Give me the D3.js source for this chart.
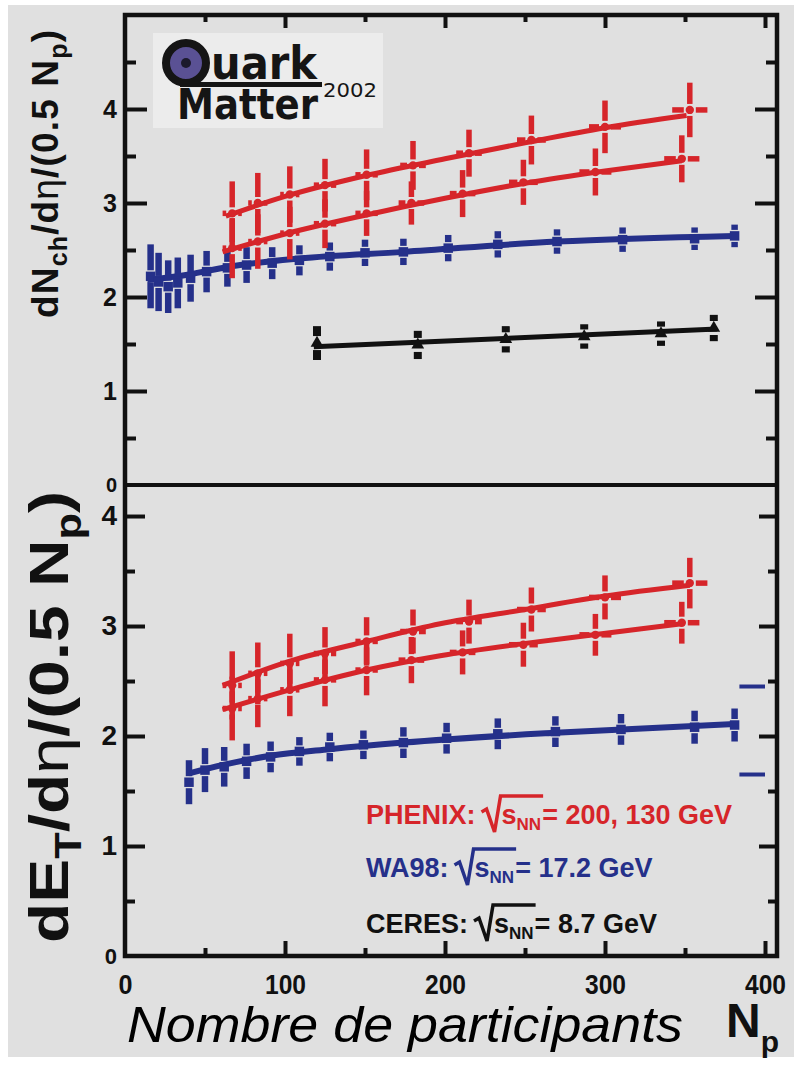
<!DOCTYPE html>
<html>
<head>
<meta charset="utf-8">
<script src="https://cdn.jsdelivr.net/npm/d3@7"></script>
<style>
  html, body { margin: 0; padding: 0; background: #ffffff; }
  svg { display: block; }
</style>
</head>
<body>
<svg id="chart" width="794" height="1068"></svg>
<script>
// ---------- data ----------
// PHENIX, sqrt(sNN) = 200 GeV
const phenix200Np      = [67, 83, 103, 125, 151, 180, 215, 254, 300, 353];
const phenix200NpErr   = [6, 6, 6, 7, 7, 8, 8, 9, 10, 11];
const phenix200Nch     = [2.89, 3.00, 3.09, 3.19, 3.30, 3.40, 3.53, 3.67, 3.81, 3.99];
const phenix200NchErr  = [0.34, 0.32, 0.30, 0.28, 0.27, 0.26, 0.25, 0.26, 0.28, 0.29];
const phenix200Et      = [2.46, 2.57, 2.66, 2.75, 2.86, 2.95, 3.04, 3.15, 3.26, 3.39];
const phenix200EtErr   = [0.31, 0.28, 0.27, 0.24, 0.22, 0.20, 0.20, 0.20, 0.20, 0.23];

// PHENIX, sqrt(sNN) = 130 GeV
const phenix130Np      = [67, 83, 103, 125, 151, 179, 211, 249, 294, 348];
const phenix130NpErr   = [6, 6, 6, 7, 7, 8, 8, 9, 10, 11];
const phenix130Nch     = [2.52, 2.59, 2.68, 2.78, 2.89, 3.00, 3.10, 3.22, 3.33, 3.47];
const phenix130NchErr  = [0.32, 0.29, 0.28, 0.26, 0.24, 0.23, 0.25, 0.24, 0.25, 0.25];
const phenix130Et      = [2.25, 2.34, 2.42, 2.51, 2.60, 2.69, 2.76, 2.83, 2.92, 3.03];
const phenix130EtErr   = [0.29, 0.26, 0.24, 0.24, 0.23, 0.21, 0.20, 0.20, 0.19, 0.19];

// WA98, sqrt(sNN) = 17.2 GeV
const wa98NchNp  = [16, 21, 27, 33, 41, 51, 64, 76, 92, 109, 128, 150, 174, 202, 233, 270, 311, 356, 381];
const wa98Nch    = [2.22, 2.16, 2.11, 2.15, 2.20, 2.27, 2.31, 2.34, 2.36, 2.39, 2.43, 2.47, 2.48, 2.52, 2.56, 2.59, 2.61, 2.62, 2.65];
const wa98NchErr = [0.34, 0.31, 0.28, 0.27, 0.25, 0.22, 0.20, 0.19, 0.17, 0.16, 0.15, 0.14, 0.14, 0.14, 0.14, 0.13, 0.13, 0.12, 0.12];
const wa98EtNp   = [40, 50, 62, 76, 91, 109, 128, 149, 174, 201, 233, 269, 310, 356, 381];
const wa98Et     = [1.58, 1.69, 1.72, 1.77, 1.81, 1.86, 1.90, 1.92, 1.94, 1.98, 2.02, 2.04, 2.06, 2.08, 2.10];
const wa98EtErr  = [0.20, 0.20, 0.18, 0.16, 0.14, 0.13, 0.13, 0.13, 0.14, 0.14, 0.14, 0.14, 0.14, 0.15, 0.15];
// WA98 E_T systematic band edges (drawn at the right edge)
const wa98EtSysNp = [384, 400];
const wa98EtSys   = [2.45, 1.65];

// CERES, sqrt(sNN) = 8.7 GeV
const ceresNp     = [120, 183, 238, 287, 335, 368];
const ceresNch    = [1.51, 1.49, 1.55, 1.58, 1.61, 1.67];
const ceresNchErr = [0.18, 0.15, 0.14, 0.13, 0.13, 0.14];

// fitted curves
const fitP200NchNp = [63, 100, 150, 200, 250, 300, 351];
const fitP200Nch   = [2.86, 3.07, 3.29, 3.47, 3.64, 3.80, 3.93];
const fitP130NchNp = [61, 100, 150, 200, 250, 300, 348];
const fitP130Nch   = [2.48, 2.67, 2.87, 3.05, 3.21, 3.34, 3.45];
const fitWa98NchNp = [14, 40, 64, 109, 174, 270, 381];
const fitWa98Nch   = [2.18, 2.24, 2.32, 2.41, 2.48, 2.59, 2.65];
const fitCeresNp   = [118, 370];
const fitCeresNch  = [1.47, 1.66];
const fitP200EtNp  = [61, 103, 151, 197, 250, 299, 353];
const fitP200Et    = [2.46, 2.68, 2.86, 3.02, 3.15, 3.27, 3.37];
const fitP130EtNp  = [61, 103, 151, 197, 249, 293, 348];
const fitP130Et    = [2.24, 2.42, 2.60, 2.73, 2.84, 2.92, 3.02];
const fitWa98EtNp  = [40, 62, 91, 128, 174, 269, 381];
const fitWa98Et    = [1.66, 1.74, 1.82, 1.88, 1.94, 2.03, 2.11];

// axis ticks
const xMajor = [0, 100, 200, 300, 400];
const xMinor = [50, 150, 250, 350];
const yTopMajor = [1, 2, 3, 4];
const yTopMinor = [0.5, 1.5, 2.5, 3.5, 4.5];
const yBotMajor = [1, 2, 3, 4];
const yBotMinor = [0.5, 1.5, 2.5, 3.5];

// ---------- drawing ----------
const RED = "#d6252a", BLUE = "#25308a", BLACK = "#111111", AX = "#111111";
const FONT = "'Liberation Sans', Arial, Helvetica, sans-serif";

const svg = d3.select("#chart");
svg.append("rect").attr("x", 8).attr("y", 5).attr("width", 786).attr("height", 1052).attr("fill", "#e0e0e0");

const x = d3.scaleLinear().domain([0, 407.5]).range([125, 777]);
const yTop = d3.scaleLinear().domain([0, 5]).range([485, 15]);
const yBot = d3.scaleLinear().domain([0, 4.282]).range([956, 485]);

// tick marks
function ticksY(scale, xPos, orient, values, len) {
  const gen = (orient === "left" ? d3.axisLeft(scale) : d3.axisRight(scale))
    .tickValues(values).tickSize(-len).tickFormat("");
  const g = svg.append("g").attr("transform", `translate(${xPos},0)`).call(gen);
  g.select(".domain").remove();
  g.selectAll("line").attr("stroke", AX).attr("stroke-width", 4);
}
function ticksX(scale, yPos, orient, values, len) {
  const gen = (orient === "bottom" ? d3.axisBottom(scale) : d3.axisTop(scale))
    .tickValues(values).tickSize(-len).tickFormat("");
  const g = svg.append("g").attr("transform", `translate(0,${yPos})`).call(gen);
  g.select(".domain").remove();
  g.selectAll("line").attr("stroke", AX).attr("stroke-width", 4);
}

ticksY(yTop, 125, "left", yTopMajor, 22);
ticksY(yTop, 125, "left", yTopMinor, 11);
ticksY(yTop, 777, "right", yTopMajor, 22);
ticksY(yTop, 777, "right", yTopMinor, 11);
ticksY(yBot, 125, "left", yBotMajor, 20);
ticksY(yBot, 125, "left", yBotMinor, 10);
ticksY(yBot, 777, "right", yBotMajor, 18);
ticksY(yBot, 777, "right", yBotMinor, 9);
ticksX(x, 15, "top", xMajor.filter(v => v > 0), 13);
ticksX(x, 15, "top", xMinor, 7);
ticksX(x, 956, "bottom", xMajor.filter(v => v > 0), 15);
ticksX(x, 956, "bottom", xMinor, 8);

// frames
svg.append("rect").attr("x", 125).attr("y", 15).attr("width", 652).attr("height", 941)
  .attr("fill", "none").attr("stroke", AX).attr("stroke-width", 4.5);
svg.append("line").attr("x1", 125).attr("x2", 777).attr("y1", 485).attr("y2", 485)
  .attr("stroke", AX).attr("stroke-width", 4);

// tick labels
function labelsY(scale, values, size) {
  const g = svg.append("g").attr("transform", "translate(125,0)")
    .call(d3.axisLeft(scale).tickValues(values).tickSize(0).tickPadding(8).tickFormat(d3.format("d")));
  g.select(".domain").remove();
  g.selectAll("text").attr("font-family", FONT).attr("font-weight", "bold")
    .attr("font-size", size).attr("fill", AX);
}
labelsY(yTop, yTopMajor, 25);
labelsY(yTop, [0], 20);
labelsY(yBot, yBotMajor, 28);
labelsY(yBot, [0], 22);

const gx = svg.append("g").attr("transform", "translate(0,956)")
  .call(d3.axisBottom(x).tickValues(xMajor).tickSize(0).tickPadding(18).tickFormat(d3.format("d")));
gx.select(".domain").remove();
gx.selectAll("text").attr("font-family", FONT).attr("font-weight", "bold")
  .attr("font-size", 28).attr("fill", AX)
  .attr("textLength", d => d === 0 ? 14 : 41).attr("lengthAdjust", "spacingAndGlyphs");

// ---------- series ----------
function drawFit(xs, ys, yScale, color, width, curve) {
  svg.append("path")
    .datum(xs.map((v, i) => [v, ys[i]]))
    .attr("fill", "none").attr("stroke", color).attr("stroke-width", width)
    .attr("d", d3.line().x(d => x(d[0])).y(d => yScale(d[1])).curve(curve));
}

function drawErrors(xs, ys, errs, yScale, color, width, gap) {
  const g = svg.append("g").attr("stroke", color).attr("stroke-width", width);
  xs.forEach((v, i) => {
    const cx = x(v), cy = yScale(ys[i]);
    const top = yScale(ys[i] + errs[i]), bot = yScale(ys[i] - errs[i]);
    g.append("line").attr("x1", cx).attr("x2", cx).attr("y1", top).attr("y2", cy - gap);
    g.append("line").attr("x1", cx).attr("x2", cx).attr("y1", cy + gap).attr("y2", bot);
  });
}

function drawXErrors(xs, ys, xerrs, yScale, color, width, gap) {
  const g = svg.append("g").attr("stroke", color).attr("stroke-width", width);
  xs.forEach((v, i) => {
    const cx = x(v), cy = yScale(ys[i]);
    const l = x(v - xerrs[i]), r = x(v + xerrs[i]);
    g.append("line").attr("x1", l).attr("x2", cx - gap).attr("y1", cy).attr("y2", cy);
    g.append("line").attr("x1", cx + gap).attr("x2", r).attr("y1", cy).attr("y2", cy);
  });
}

function drawMarkers(xs, ys, yScale, color, type, size) {
  svg.append("g").selectAll("path").data(xs.map((v, i) => [v, ys[i]])).join("path")
    .attr("transform", d => `translate(${x(d[0])},${yScale(d[1])})`)
    .attr("d", d3.symbol().type(type).size(size))
    .attr("fill", color);
}

// top panel: charged multiplicity
drawFit(fitWa98NchNp, fitWa98Nch, yTop, BLUE, 6, d3.curveMonotoneX);
drawErrors(wa98NchNp, wa98Nch, wa98NchErr, yTop, BLUE, 6.5, 6);
drawMarkers(wa98NchNp, wa98Nch, yTop, BLUE, d3.symbolSquare, 90);

drawFit(fitCeresNp, fitCeresNch, yTop, BLACK, 5, d3.curveLinear);
drawErrors(ceresNp, ceresNch, ceresNchErr, yTop, BLACK, 8, 7);
drawMarkers(ceresNp, ceresNch, yTop, BLACK, d3.symbolTriangle, 70);

drawFit(fitP130NchNp, fitP130Nch, yTop, RED, 5, d3.curveMonotoneX);
drawErrors(phenix130Np, phenix130Nch, phenix130NchErr, yTop, RED, 5.5, 6);
drawXErrors(phenix130Np, phenix130Nch, phenix130NpErr, yTop, RED, 5.5, 6);
drawMarkers(phenix130Np, phenix130Nch, yTop, RED, d3.symbolCircle, 55);

drawFit(fitP200NchNp, fitP200Nch, yTop, RED, 5, d3.curveMonotoneX);
drawErrors(phenix200Np, phenix200Nch, phenix200NchErr, yTop, RED, 5.5, 6);
drawXErrors(phenix200Np, phenix200Nch, phenix200NpErr, yTop, RED, 5.5, 6);
drawMarkers(phenix200Np, phenix200Nch, yTop, RED, d3.symbolCircle, 55);

// bottom panel: transverse energy
drawFit(fitWa98EtNp, fitWa98Et, yBot, BLUE, 6, d3.curveMonotoneX);
drawErrors(wa98EtNp, wa98Et, wa98EtErr, yBot, BLUE, 6.5, 6);
drawMarkers(wa98EtNp, wa98Et, yBot, BLUE, d3.symbolSquare, 90);
svg.append("g").selectAll("line").data(wa98EtSys).join("line")
  .attr("x1", x(wa98EtSysNp[0])).attr("x2", x(wa98EtSysNp[1]))
  .attr("y1", d => yBot(d)).attr("y2", d => yBot(d))
  .attr("stroke", BLUE).attr("stroke-width", 4);

drawFit(fitP130EtNp, fitP130Et, yBot, RED, 5, d3.curveMonotoneX);
drawErrors(phenix130Np, phenix130Et, phenix130EtErr, yBot, RED, 5.5, 6);
drawXErrors(phenix130Np, phenix130Et, phenix130NpErr, yBot, RED, 5.5, 6);
drawMarkers(phenix130Np, phenix130Et, yBot, RED, d3.symbolCircle, 55);

drawFit(fitP200EtNp, fitP200Et, yBot, RED, 5, d3.curveMonotoneX);
drawErrors(phenix200Np, phenix200Et, phenix200EtErr, yBot, RED, 5.5, 6);
drawXErrors(phenix200Np, phenix200Et, phenix200NpErr, yBot, RED, 5.5, 6);
drawMarkers(phenix200Np, phenix200Et, yBot, RED, d3.symbolCircle, 55);

// ---------- legend ----------
const legendRows = [
  { name: "PHENIX:", energy: "= 200, 130 GeV", color: RED, base: 824 },
  { name: "WA98:", energy: "= 17.2 GeV", color: BLUE, base: 877 },
  { name: "CERES:", energy: "= 8.7 GeV", color: BLACK, base: 933 }
];
legendRows.forEach(row => {
  const g = svg.append("g").attr("fill", row.color).attr("font-family", FONT).attr("font-weight", "bold");
  let cx = 366;
  const t1 = g.append("text").attr("x", cx).attr("y", row.base).attr("font-size", 27).text(row.name);
  cx += t1.node().getComputedTextLength() + 6;
  const r0 = cx;
  cx += 20;
  const ts = g.append("text").attr("x", cx).attr("y", row.base).attr("font-size", 27).text("s");
  cx += ts.node().getComputedTextLength();
  const tn = g.append("text").attr("x", cx).attr("y", row.base + 6).attr("font-size", 17).text("NN");
  cx += tn.node().getComputedTextLength() + 1;
  g.append("path")
    .attr("d", `M${r0},${row.base - 12} L${r0 + 5},${row.base - 15} L${r0 + 13},${row.base + 8} L${r0 + 19},${row.base - 28} L${cx + 1},${row.base - 28}`)
    .attr("fill", "none").attr("stroke", row.color).attr("stroke-width", 3.5).attr("stroke-linejoin", "miter");
  g.append("text").attr("x", cx).attr("y", row.base).attr("font-size", 27).text(row.energy);
});

// ---------- axis titles ----------
const topTitle = svg.append("text")
  .attr("transform", "translate(58,174) rotate(-90)")
  .attr("text-anchor", "middle").attr("font-family", FONT).attr("font-weight", "bold")
  .attr("font-size", 37).attr("fill", AX)
  .attr("textLength", 288).attr("lengthAdjust", "spacing");
topTitle.append("tspan").text("dN");
topTitle.append("tspan").attr("font-size", 25).attr("dy", 9).text("ch");
topTitle.append("tspan").attr("dy", -9).text("/d");
topTitle.append("tspan").attr("font-weight", "normal").text("η");
topTitle.append("tspan").text("/(0.5 N");
topTitle.append("tspan").attr("font-size", 25).attr("dy", 9).text("p");
topTitle.append("tspan").attr("dy", -9).text(")");

const botTitle = svg.append("text")
  .attr("transform", "translate(68,717) rotate(-90)")
  .attr("text-anchor", "middle").attr("font-family", FONT).attr("font-weight", "bold")
  .attr("font-size", 56).attr("fill", AX)
  .attr("textLength", 452).attr("lengthAdjust", "spacingAndGlyphs");
botTitle.append("tspan").text("dE");
botTitle.append("tspan").attr("font-size", 37).attr("dy", 13).text("T");
botTitle.append("tspan").attr("dy", -13).text("/d");
botTitle.append("tspan").attr("font-weight", "normal").text("η");
botTitle.append("tspan").text("/(0.5 N");
botTitle.append("tspan").attr("font-size", 37).attr("dy", 13).text("p");
botTitle.append("tspan").attr("dy", -13).text(")");

svg.append("text").attr("x", 127).attr("y", 1042)
  .attr("font-family", FONT).attr("font-style", "italic").attr("font-size", 50).attr("fill", "#000")
  .attr("textLength", 556).attr("lengthAdjust", "spacingAndGlyphs")
  .text("Nombre de participants");

const np = svg.append("text").attr("x", 726).attr("y", 1037)
  .attr("font-family", FONT).attr("font-weight", "bold").attr("fill", AX);
np.append("tspan").attr("font-size", 48).text("N");
np.append("tspan").attr("font-size", 30).attr("dy", 15).text("p");

// ---------- conference logo ----------
const logo = svg.append("g");
logo.append("rect").attr("x", 153).attr("y", 33).attr("width", 230).attr("height", 95).attr("fill", "#ececec");
logo.append("circle").attr("cx", 186).attr("cy", 63).attr("r", 20)
  .attr("fill", "#5a5194").attr("stroke", "#151515").attr("stroke-width", 8);
logo.append("circle").attr("cx", 186).attr("cy", 63).attr("r", 5).attr("fill", "#1c1a2c");
logo.append("rect").attr("x", 180).attr("y", 82).attr("width", 142).attr("height", 5).attr("fill", "#151515");
logo.append("text").attr("x", 211).attr("y", 79).attr("font-family", "'DejaVu Sans', sans-serif")
  .attr("font-weight", "bold").attr("font-size", 46).attr("fill", "#151515")
  .attr("textLength", 106).attr("lengthAdjust", "spacingAndGlyphs").text("uark");
logo.append("text").attr("x", 177).attr("y", 119).attr("font-family", "'DejaVu Sans', sans-serif")
  .attr("font-weight", "bold").attr("font-size", 42).attr("fill", "#151515")
  .attr("textLength", 141).attr("lengthAdjust", "spacingAndGlyphs").text("Matter");
logo.append("text").attr("x", 323).attr("y", 97).attr("font-family", "'DejaVu Sans', sans-serif")
  .attr("font-size", 20).attr("fill", "#151515")
  .attr("textLength", 54).attr("lengthAdjust", "spacingAndGlyphs").text("2002");
</script>
</body>
</html>
